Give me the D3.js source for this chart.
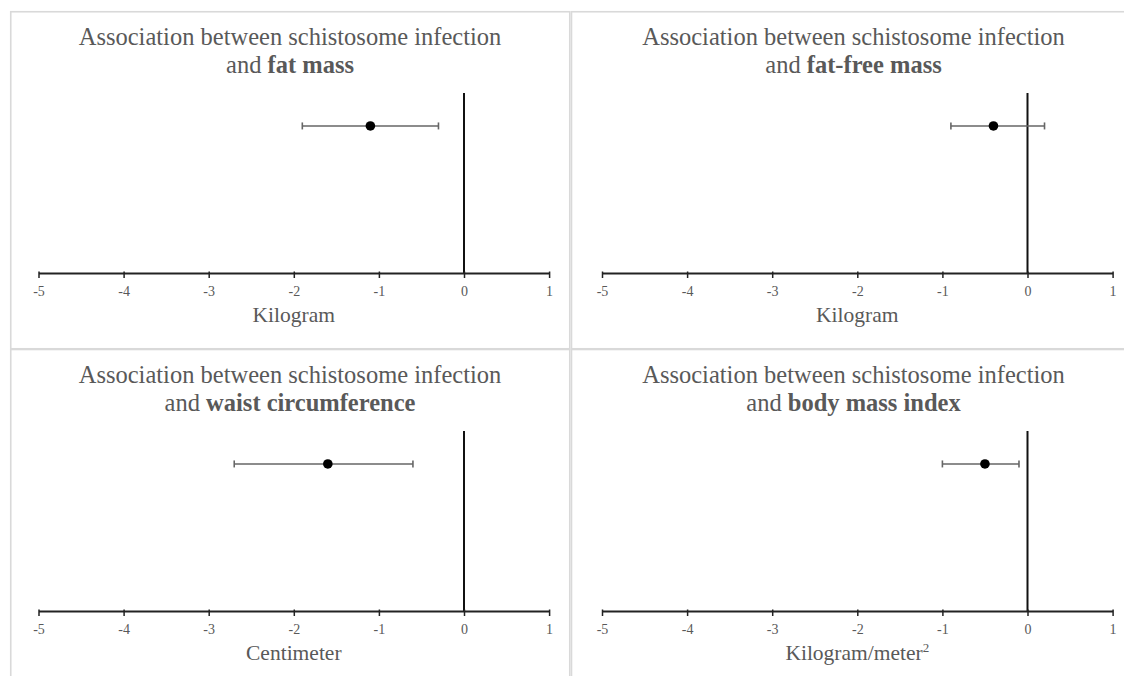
<!DOCTYPE html>
<html>
<head>
<meta charset="utf-8">
<script src="https://cdn.jsdelivr.net/npm/d3@7"></script>
<style>
  html, body { margin: 0; padding: 0; background: #fff; }
  svg { display: block; }
  text { font-family: "Liberation Serif", "Times New Roman", serif; }
</style>
</head>
<body>
<svg id="chart" width="1124" height="676"></svg>
<script>
// ---------------- DATA ----------------
const outcomes   = ["fat mass", "fat-free mass", "waist circumference", "body mass index"];
const units      = ["Kilogram", "Kilogram", "Centimeter", "Kilogram/meter"];
const unitSup    = ["", "", "", "2"];
const estimates  = [-1.1, -0.4, -1.6, -0.5];
const ciLower    = [-1.9, -0.9, -2.7, -1.0];
const ciUpper    = [-0.3, 0.2, -0.6, -0.1];
const xTicks     = [-5, -4, -3, -2, -1, 0, 1];
const titlePrefix = "Association between schistosome infection";

// ---------------- LAYOUT ----------------
const svg = d3.select("#chart");
const colOffset = [0, 563.5];
const rowOffset = [0, 338];
const frames = [
  {x: 10.75, y: 11.75, w: 559, h: 337},
  {x: 571.5, y: 11.75, w: 560, h: 337},
  {x: 10.75, y: 349.5, w: 559, h: 340},
  {x: 571.5, y: 349.5, w: 560, h: 340}
];
const textColor = "#595959";

outcomes.forEach((name, i) => {
  const col = i % 2, row = Math.floor(i / 2);
  const ox = colOffset[col], oy = rowOffset[row];

  // frame
  const f = frames[i];
  svg.append("rect")
    .attr("x", f.x).attr("y", f.y).attr("width", f.w).attr("height", f.h)
    .attr("fill", "none").attr("stroke", "#d9d9d9").attr("stroke-width", 1.6);

  const g = svg.append("g").attr("transform", `translate(${ox},${oy})`);

  const x = d3.scaleLinear().domain([-5, 1]).range([38.5, 549.1]);
  const y = d3.scaleLinear().domain([0, 1]).range([273, 93]);
  const pointY = 0.817;

  // title
  const t = g.append("text")
    .attr("x", 290).attr("y", 45)
    .attr("text-anchor", "middle")
    .attr("font-size", 24.5)
    .attr("fill", textColor);
  t.append("tspan").text(titlePrefix);
  const t2 = g.append("text")
    .attr("x", 290).attr("y", 73)
    .attr("text-anchor", "middle")
    .attr("font-size", 24.5)
    .attr("fill", textColor);
  t2.append("tspan").text("and ");
  t2.append("tspan").attr("font-weight", "bold").text(name);

  // zero reference line
  g.append("line")
    .attr("x1", x(0)).attr("x2", x(0))
    .attr("y1", y(1)).attr("y2", y(0))
    .attr("stroke", "#111").attr("stroke-width", 2);

  // x axis
  const axis = d3.axisBottom(x)
    .tickValues(xTicks)
    .tickFormat(d => String(d))
    .tickSizeInner(5).tickSizeOuter(0).tickPadding(8);
  const ag = g.append("g").attr("transform", `translate(0,${y(0)})`).call(axis);
  ag.select(".domain").attr("stroke", "#222").attr("stroke-width", 2);
  ag.selectAll(".tick line").attr("stroke", "#222").attr("stroke-width", 1.5).attr("y1", -1.5);
  ag.selectAll(".tick text")
    .attr("font-family", "'Liberation Serif', 'Times New Roman', serif")
    .attr("font-size", 14).attr("fill", textColor);

  // axis title
  const at = g.append("text")
    .attr("x", (x.range()[0] + x.range()[1]) / 2).attr("y", 322)
    .attr("text-anchor", "middle")
    .attr("font-size", 21.5)
    .attr("fill", textColor);
  at.append("tspan").text(units[i]);
  if (unitSup[i]) {
    at.append("tspan").attr("font-size", 13).attr("dy", -8).text(unitSup[i]);
  }

  // error bar
  const py = y(pointY);
  const eb = g.append("g").attr("stroke", "#666").attr("stroke-width", 1.6);
  eb.append("line").attr("x1", x(ciLower[i])).attr("x2", x(ciUpper[i])).attr("y1", py).attr("y2", py);
  [ciLower[i], ciUpper[i]].forEach(v => {
    eb.append("line").attr("x1", x(v)).attr("x2", x(v)).attr("y1", py - 3.5).attr("y2", py + 3.5);
  });

  // point
  g.append("circle").attr("cx", x(estimates[i])).attr("cy", py).attr("r", 4.8).attr("fill", "#000");
});
</script>
</body>
</html>
